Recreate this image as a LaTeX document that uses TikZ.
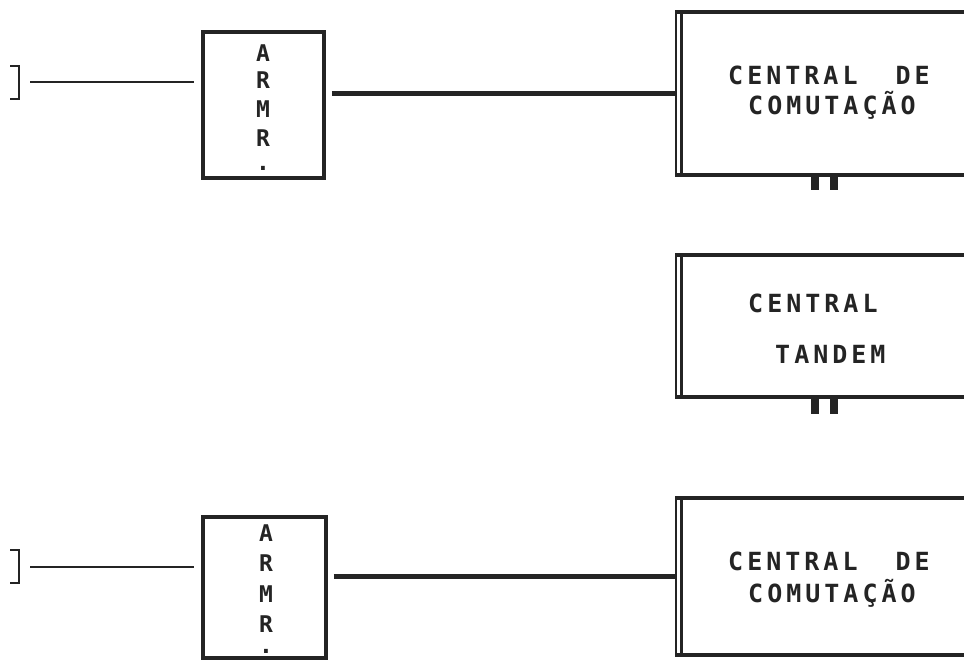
\documentclass[tikz,border=0pt]{standalone}
\usepackage{fontspec}
\newfontfamily\tw{DejaVu Sans Mono}[LetterSpace=16]
\newfontfamily\twl{DejaVu Sans Mono}
\definecolor{ink}{gray}{0.14}
\begin{document}
\begin{tikzpicture}[x=1pt,y=-1pt,
  thinln/.style={draw=ink, line width=2pt},
  thickln/.style={draw=ink, line width=4.5pt},
  boxln/.style={draw=ink, line width=3.5pt},
  armr/.style={draw=ink, line width=3.5pt, inner sep=0pt},
  hidden/.style={inner sep=0pt, outer sep=0pt},
  lbl/.style={inner sep=0pt, text=ink, font=\tw\bfseries\fontsize{25}{25}\selectfont, anchor=base west},
  ltr/.style={inner sep=0pt, text=ink, font=\twl\bfseries\fontsize{23}{23}\selectfont, anchor=base},
  footmark/.style={fill=ink, draw=none}]
\clip (0,0) rectangle (964,660);
\fill[white] (0,0) rectangle (964,660);

% ---- brackets (inputs) ----
\node[hidden, minimum width=9pt, minimum height=33pt] (b1) at (14.5,82.5) {};
\node[hidden, minimum width=9pt, minimum height=33pt] (b2) at (14.5,566.5) {};
\draw[thinln, line width=2.5pt] (b1.north west) -- (b1.north east) -- (b1.south east) -- (b1.south west);
\draw[thinln, line width=2.5pt] (b2.north west) -- (b2.north east) -- (b2.south east) -- (b2.south west);

% ---- ARMR boxes ----
\node[armr, minimum width=121pt, minimum height=146pt] (a1) at (263.5,105) {};
\node[armr, minimum width=123pt, minimum height=141pt] (a2) at (264.5,587.5) {};

\node[ltr] (a1l1) at (263,62) {A};
\node[ltr] (a1l2) at (263,89) {R};
\node[ltr] (a1l3) at (263,118) {M};
\node[ltr] (a1l4) at (263,147) {R};
\node[ltr] (a1l5) at (263,171) {.};

\node[ltr] (a2l1) at (266,541) {A};
\node[ltr] (a2l2) at (266,571) {R};
\node[ltr] (a2l3) at (266,602) {M};
\node[ltr] (a2l4) at (266,632) {R};
\node[ltr] (a2l5) at (266,653) {.};

% ---- central boxes (running off the right edge) ----
\node[hidden, minimum width=330pt, minimum height=163pt, anchor=north west] (c1) at (676,12) {};
\node[hidden, minimum width=330pt, minimum height=142pt, anchor=north west] (c2) at (676,255) {};
\node[hidden, minimum width=330pt, minimum height=157pt, anchor=north west] (c3) at (676,498) {};

\foreach \c in {c1,c2,c3}{
  \draw[boxln, line width=4pt] (\c.north east) -- ([xshift=-1.5pt]\c.north west);
  \draw[boxln, line width=4pt] (\c.south east) -- ([xshift=-1.5pt]\c.south west);
  \draw[boxln, line width=2.8pt] (\c.north west) -- (\c.south west);
  \draw[boxln, line width=2.5pt] ([xshift=5.5pt]\c.north west) -- ([xshift=5.5pt]\c.south west);
}

% small feet under the upper two central boxes
\fill[footmark] (811,175) rectangle (819,190);
\fill[footmark] (830,175) rectangle (838,190);
\fill[footmark] (811,397) rectangle (819,414);
\fill[footmark] (830,397) rectangle (838,414);

% ---- labels ----
\node[lbl] (t1a) at (728,85) {CENTRAL\ \ DE};
\node[lbl] (t1b) at (748,115) {COMUTAÇÃO};
\node[lbl] (t2a) at (748,313) {CENTRAL};
\node[lbl] (t2b) at (775,363) {TANDEM};
\node[lbl] (t3a) at (728,570) {CENTRAL\ \ DE};
\node[lbl] (t3b) at (748,602) {COMUTAÇÃO};

% ---- connectors ----
\draw[thinln, shorten <=11pt, shorten >=7pt] (b1.east) -- (b1.east -| a1.west);
\draw[thinln, shorten <=11pt, shorten >=7pt] (b2.east) -- (b2.east -| a2.west);
\draw[thickln, shorten <=6pt] (a1.east |- c1.west) -- (c1.west);
\draw[thickln, shorten <=6pt] (a2.east |- c3.west) -- (c3.west);
\end{tikzpicture}
\end{document}
